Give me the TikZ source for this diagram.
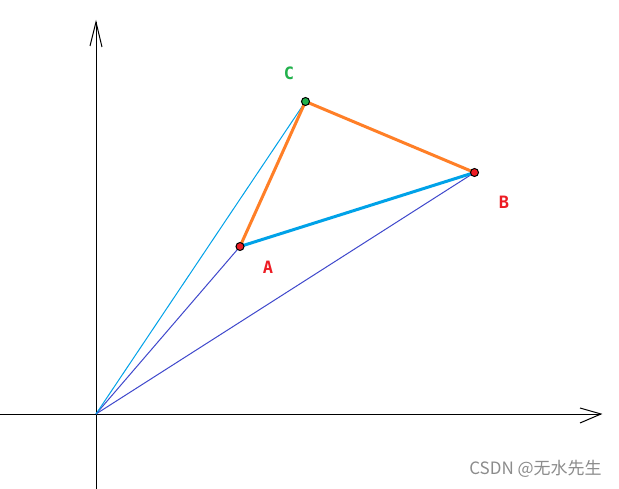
\documentclass[tikz,border=0pt]{standalone}
\usepackage{fontspec}
\newfontfamily\labfont{DejaVu Sans Mono}
\newfontfamily\cjk{Noto Sans CJK SC}
\definecolor{pgreen}{RGB}{34,177,76}
\definecolor{pred}{RGB}{237,28,36}
\definecolor{porange}{RGB}{255,127,39}
\definecolor{pcyan}{RGB}{0,162,232}
\definecolor{pindigo}{RGB}{63,72,204}
\tikzset{
  dot/.style={circle,draw=black,line width=1pt,inner sep=0pt,minimum size=8pt},
  lab/.style={font=\labfont\bfseries\fontsize{17}{17}\selectfont,inner sep=0pt},
  axis/.style={draw=black,line width=1pt},
  thinl/.style={line width=1pt},
  thickl/.style={line width=3pt}
}
\begin{document}
\begin{tikzpicture}[x=1pt,y=-1pt]
\useasboundingbox[fill=white] (0,0) rectangle (619,489);
% axes
\coordinate (O) at (96,414);
\coordinate (ybot) at (96,489);
\coordinate (ytop) at (96,22);
\coordinate (yl) at (90,46);
\coordinate (yr) at (102,47);
\coordinate (xl) at (0,414);
\coordinate (xr) at (601,414);
\coordinate (xu) at (580,408);
\coordinate (xd) at (580,423);
\draw[axis] (ybot) -- (ytop);
\draw[axis] (yl) -- (ytop) -- (yr);
\draw[axis] (xl) -- (xr);
\draw[axis] (xu) -- (xr) -- (xd);
% points
\coordinate (Ap) at (240,246.5);
\coordinate (Bp) at (474.5,172.5);
\coordinate (Cp) at (305.5,101.5);
\draw[thinl,pindigo] (O) -- (Ap);
\draw[thinl,pindigo] (O) -- (Bp);
\draw[thinl,pcyan] (O) -- (Cp);
\draw[thickl,pcyan] (Ap) -- (Bp);
\draw[thickl,porange] (Ap) -- (Cp);
\draw[thickl,porange] (Cp) -- (Bp);
\node[dot,fill=pred] (A) at (Ap) {};
\node[dot,fill=pred] (B) at (Bp) {};
\node[dot,fill=pgreen] (C) at (Cp) {};
\node[lab,text=pgreen] (Cl) at (289,73) {C};
\node[lab,text=pred] (Bl) at (504,202) {B};
\node[lab,text=pred] (Al) at (268,267.5) {A};
\node[font=\cjk\fontsize{17}{17}\selectfont,text=black!45,inner sep=0pt] (wm) at (535.5,469) {CSDN @无水先生};
\end{tikzpicture}
\end{document}
